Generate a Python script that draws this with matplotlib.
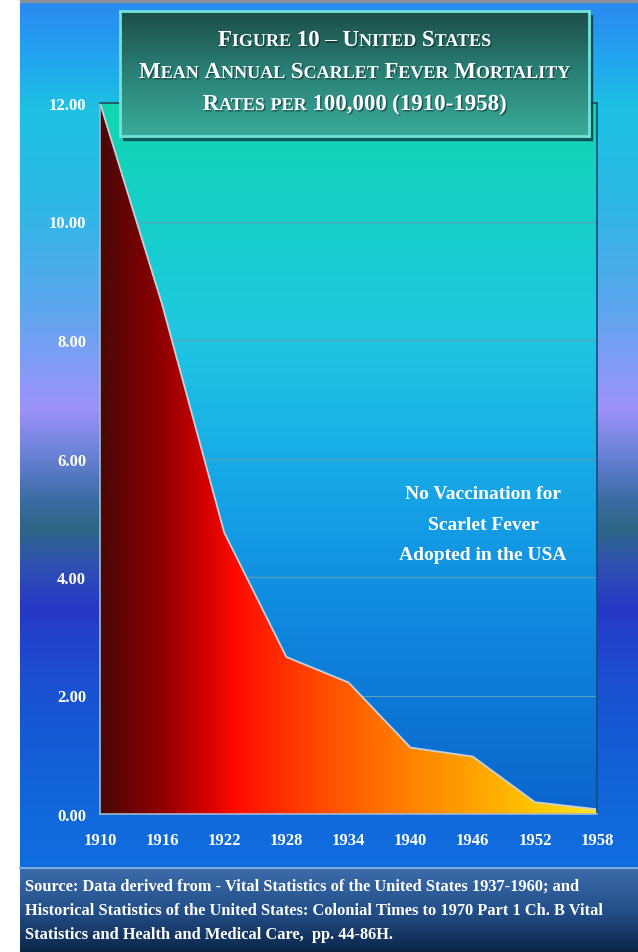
import numpy as np
import matplotlib

matplotlib.use("Agg")
import matplotlib.pyplot as plt
from matplotlib.colors import LinearSegmentedColormap
from matplotlib.patches import Polygon, Rectangle
from matplotlib.lines import Line2D
import matplotlib.patheffects as pe

W, H = 638, 953
SERIF = ["Liberation Serif", "DejaVu Serif"]

# data
years = [1910, 1916, 1922, 1928, 1934, 1940, 1946, 1952, 1958]
rates = [12.0, 8.6, 4.75, 2.65, 2.22, 1.12, 0.97, 0.20, 0.08]
y_ticks = [0, 2, 4, 6, 8, 10, 12]
title_lines = [
    "Figure 10 \u2013 United States",
    "Mean Annual Scarlet Fever Mortality",
    "Rates per 100,000 (1910-1958)",
]
note_lines = ["No Vaccination for", "Scarlet Fever", "Adopted in the USA"]
source_lines = [
    "Source: Data derived from - Vital Statistics of the United States 1937-1960; and",
    "Historical Statistics of the United States: Colonial Times to 1970 Part 1 Ch. B Vital",
    "Statistics and Health and Medical Care,  pp. 44-86H.",
]


def box(x0, y0, x1, y1):
    """pixel box (top-left origin) -> figure rect"""
    return [x0 / W, 1 - y1 / H, (x1 - x0) / W, (y1 - y0) / H]


def stops_cmap(stops, span):
    pos = [(p - span[0]) / (span[1] - span[0]) for p, _ in stops]
    return LinearSegmentedColormap.from_list("g", list(zip(pos, [c for _, c in stops])))


def vgrad(ax, cmap, extent=(0, 1, 0, 1), zorder=0):
    arr = np.linspace(0, 1, 512).reshape(-1, 1)
    return ax.imshow(arr, cmap=cmap, aspect="auto", extent=extent,
                     origin="upper", zorder=zorder, interpolation="bilinear")


fig = plt.figure(figsize=(W / 100, H / 100), dpi=100)
fig.patch.set_facecolor("white")

# outer panel background
outer = [(3, "#2a8af0"), (60, "#22a6ee"), (110, "#1ec2e2"), (200, "#2cb8e6"),
         (300, "#58a8ee"), (385, "#8e98f6"), (410, "#9c92f8"), (455, "#6a82d8"),
         (500, "#3c6ca4"), (530, "#2c6686"), (565, "#3052b0"), (610, "#2638c6"),
         (690, "#1a52d2"), (800, "#1066d8"), (870, "#106ee0")]
bg = fig.add_axes(box(20, 3, 638, 870))
bg.set_zorder(-5)
vgrad(bg, stops_cmap(outer, (3, 870)))
bg.axis("off")
fig.add_artist(Rectangle((20 / W, 1 - 3 / H), 1, 3 / H, transform=fig.transFigure,
                         color="#8a9098", zorder=-4))

# source band
sb = fig.add_axes(box(20, 869, 638, 953))
sb.set_zorder(-3)
vgrad(sb, stops_cmap([(0, "#3c6cab"), (0.5, "#24508a"), (1, "#0c2648")], (0, 1)))
sb.axis("off")
fig.add_artist(Line2D([20 / W, 1], [1 - 869 / H] * 2, transform=fig.transFigure,
                      color="#7eaee0", lw=1.5, zorder=-2))
for i, line in enumerate(source_lines):
    fig.text(25 / W, 1 - (887 + 24 * i) / H, line, color="white", fontsize=11.8,
             fontweight="bold", family=SERIF, va="center", ha="left")

# main chart
ax = fig.add_axes(box(100, 104, 597, 815))
plot_bg = [(0, "#10d6b0"), (0.15, "#16d0c8"), (0.32, "#20c8e0"), (0.5, "#18ace8"),
           (0.7, "#108ce0"), (1, "#0a64cc")]
vgrad(ax, stops_cmap(plot_bg, (0, 1)), extent=(years[0], years[-1], 0, 12), zorder=0)

fill_stops = [(1910, "#4a0808"), (1916, "#900000"), (1920, "#d00000"), (1923, "#ff0a00"),
              (1928, "#ff3200"), (1934, "#ff5c00"), (1940, "#ff8200"), (1946, "#ffa200"),
              (1952, "#ffc400"), (1958, "#ffe428")]
hg = np.linspace(0, 1, 512).reshape(1, -1)
im = ax.imshow(hg, cmap=stops_cmap(fill_stops, (1910, 1958)), aspect="auto",
               extent=(years[0], years[-1], 0, 12), zorder=2, interpolation="bilinear")
verts = list(zip(years, rates)) + [(years[-1], 0), (years[0], 0)]
area = Polygon(verts, closed=True, facecolor="none", edgecolor="none",
               transform=ax.transData)
ax.add_patch(area)
im.set_clip_path(area)
ax.plot(years, rates, color="#c8d2dc", lw=1.3, zorder=3, solid_joinstyle="miter")

ax.set_xlim(years[0], years[-1])
ax.set_ylim(0, 12)
ax.set_xticks(years)
ax.set_xticklabels([str(y) for y in years])
ax.set_yticks(y_ticks)
ax.set_yticklabels([f"{v:.2f}" for v in y_ticks])
for lab in ax.get_xticklabels() + ax.get_yticklabels():
    lab.set_fontfamily(SERIF)
    lab.set_fontweight("bold")
    lab.set_fontsize(12)
    lab.set_color("white")
ax.tick_params(axis="x", length=0, pad=13)
ax.tick_params(axis="y", length=0, pad=10)
ax.set_axisbelow(True)
ax.yaxis.grid(True, color="#5aa0b8", lw=0.8)
ax.spines["left"].set_color("#a8b8c8")
ax.spines["bottom"].set_color("#a8b8c8")
ax.spines["top"].set_color("#1c5058")
ax.spines["right"].set_color("#184a80")
for s in ax.spines.values():
    s.set_linewidth(1.2)
    s.set_zorder(4)

for i, line in enumerate(note_lines):
    ax.text(483 / W, 1 - (495 + 30 * i) / H, line, transform=fig.transFigure,
            color="white", fontsize=14, fontweight="bold", family=SERIF,
            ha="center", va="center", zorder=5)

# title box
fig.add_artist(Rectangle((123 / W, 1 - 141 / H), 469 / W, 125 / H,
                         transform=fig.transFigure, color="#0c3a40", alpha=0.75, zorder=1))
tb = fig.add_axes(box(120, 12, 589, 137))
tb.set_zorder(2)
vgrad(tb, stops_cmap([(0, "#1c4e48"), (0.5, "#2a8276"), (1, "#3aaa9a")], (0, 1)))
tb.set_xticks([])
tb.set_yticks([])
for s in tb.spines.values():
    s.set_color("#72e2da")
    s.set_linewidth(2)

renderer = fig.canvas.get_renderer()
big, small = 16.5, 13
shadow = [pe.withSimplePatchShadow(offset=(1, -1), shadow_rgbFace="#0a2a28", alpha=0.6)]


def measure(s, size):
    t = fig.text(0, 0, s, fontsize=size, fontweight="bold", family=SERIF)
    w = t.get_window_extent(renderer).width
    t.remove()
    return w


space_w = measure("M M", big) - measure("MM", big)
for i, line in enumerate(title_lines):
    base = 1 - (47 + 32 * i) / H
    words = []
    for word in line.split(" "):
        runs = []
        for ch in word:
            size = small if ch.islower() else big
            if runs and runs[-1][1] == size:
                runs[-1][0] += ch.upper()
            else:
                runs.append([ch.upper(), size])
        words.append([(r, sz, measure(r, sz)) for r, sz in runs])
    total = sum(w for wd in words for _, _, w in wd) + space_w * (len(words) - 1)
    x = 354.5 - total / 2
    for wd in words:
        for r, sz, w in wd:
            fig.text(x / W, base, r, fontsize=sz, fontweight="bold", family=SERIF,
                     color="white", va="baseline", ha="left", zorder=5,
                     path_effects=shadow)
            x += w
        x += space_w

fig.savefig("out.png", dpi=100)
